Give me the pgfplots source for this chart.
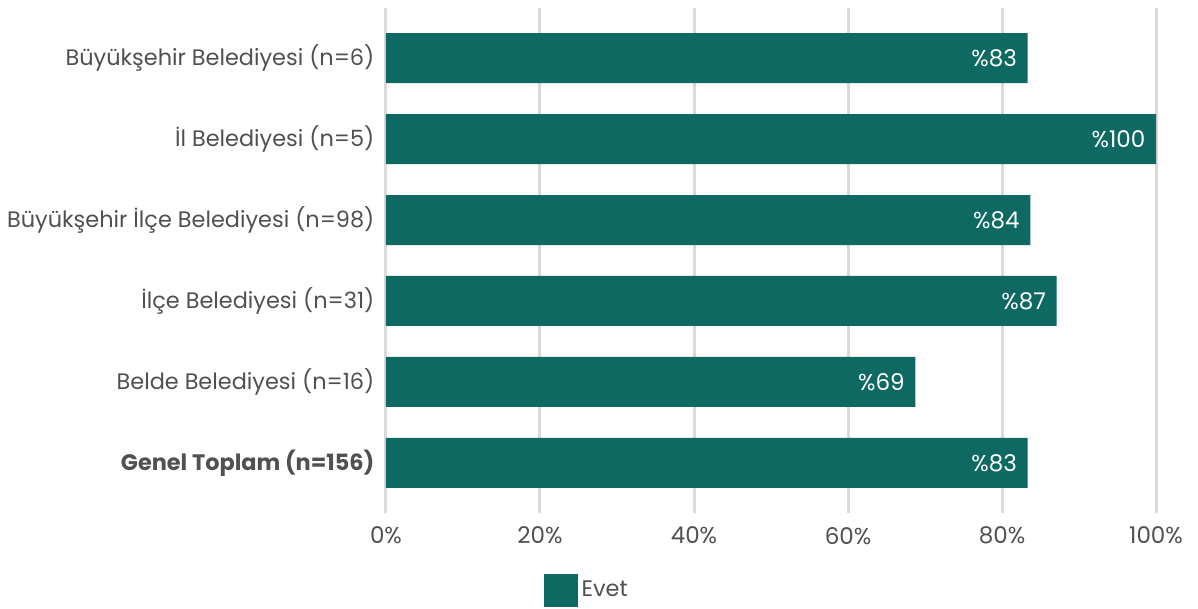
\documentclass[border=0pt]{standalone}
\usepackage{fontspec}
\setmainfont{Poppins}
\usepackage{pgfplots}
\pgfplotsset{compat=1.18}
\definecolor{barcol}{HTML}{0E6963}
\definecolor{txt}{HTML}{505050}
\definecolor{gridc}{HTML}{DADADA}
\begin{document}
\begin{tikzpicture}
\begin{axis}[
  scale only axis,
  width=385pt, height=252.5pt,
  xbar, bar width=25pt,
  xmin=0, xmax=100,
  ymin=-0.62, ymax=5.62,
  y dir=reverse,
  axis line style={draw=none},
  xtick={0,20,40,60,80,100},
  xticklabel={\pgfmathprintnumber{\tick}\%},
  ytick={0,1,2,3,4,5},
  yticklabels={Büyükşehir Belediyesi (n=6),İl Belediyesi (n=5),Büyükşehir İlçe Belediyesi (n=98),İlçe Belediyesi (n=31),Belde Belediyesi (n=16),\textbf{Genel Toplam (n=156)}},
  tick style={draw=none},
  xmajorgrids,
  major grid style={gridc, line width=1.5pt},
  ticklabel style={font=\fontsize{11.2}{13}\selectfont, text=txt},
  /pgf/number format/assume math mode=true,
  yticklabel style={xshift=2pt},
  xticklabel style={yshift=-3.5pt, font=\fontsize{11.5}{13}\selectfont},
  nodes near coords={\%\pgfmathprintnumber[fixed,precision=0]{\pgfplotspointmeta}},
  every node near coord/.append style={anchor=east, xshift=-1.8pt, text=white, font=\fontsize{11.5}{13}\selectfont},
  legend style={at={(0.262,-0.153)}, anchor=center, draw=none, font=\fontsize{11.2}{13}\selectfont, text=txt, legend columns=1},
  legend image code/.code={\fill[barcol] (0pt,-8.3pt) rectangle (17pt,8.3pt);},
]
\addplot[fill=barcol, draw=none] coordinates {(83.33,0) (100,1) (83.67,2) (87.1,3) (68.75,4) (83.33,5)};
\addlegendentry{Evet}
\end{axis}
\pgfresetboundingbox
\path[use as bounding box] ([xshift=-193pt,yshift=-48pt]current axis.south west) rectangle ([xshift=21pt,yshift=4pt]current axis.north east);
\end{tikzpicture}
\end{document}
